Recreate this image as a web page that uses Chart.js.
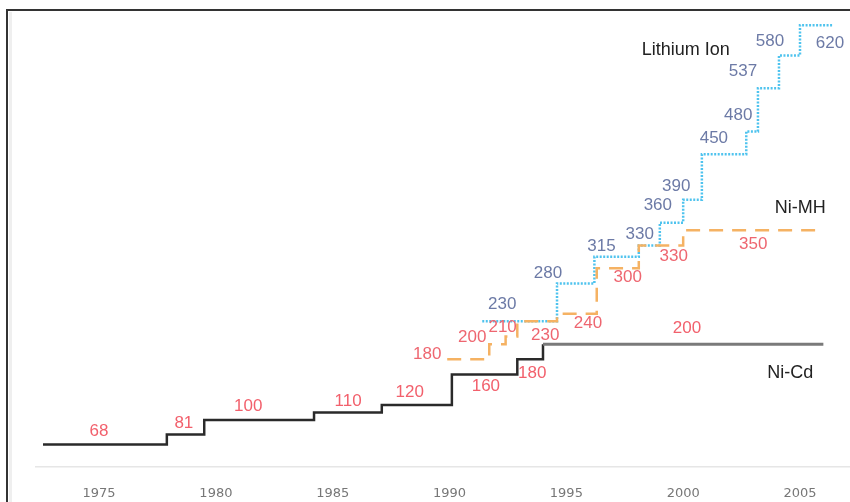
<!DOCTYPE html>
<html>
<head>
<meta charset="utf-8">
<script src="https://cdn.jsdelivr.net/npm/chart.js@4"></script>
<style>
  html, body { margin: 0; padding: 0; background: #fff; }
  #wrap { width: 850px; height: 502px; position: relative; }
</style>
</head>
<body>
<div id="wrap"><canvas id="myChart" width="850" height="502"></canvas></div>
<script>
// x ticks
const tickYears = [1975, 1980, 1985, 1990, 1995, 2000, 2005]

// each series: year where a step starts, energy value; last entry closes the line
const nicdYears = [1972.6, 1977.9, 1979.5, 1984.2, 1987.1, 1990.1, 1992.9, 1994.0, 2006.0]
const nicdValues = [68, 81, 100, 110, 120, 160, 180, 200, 200]

const nimhYears = [1989.9, 1991.7, 1992.4, 1992.9, 1994.6, 1996.3, 1998.1, 2000.0, 2006.0]
const nimhValues = [180, 200, 210, 230, 240, 300, 330, 350, 350]

const liionYears = [1991.4, 1994.6, 1996.2, 1998.1, 1999.0, 2000.0, 2000.8, 2002.7, 2003.2, 2004.1, 2005.0, 2006.4]
const liionValues = [230, 280, 315, 330, 360, 390, 450, 480, 537, 580, 620, 620]

const seriesNames = ['Ni-Cd', 'Ni-MH', 'Lithium Ion']

// where each number sits next to its step (pixels from step start)
const labelNudges = [
    [[56, -13], [17, -11], [44, -14], [34, -11], [28, -13], [34, 12], [15, 14], [144, -16]],
    [[-20, -5], [-17, -7], [-3, -9], [28, 14], [31, 10], [31, 9], [35, 11], [70, 14]],
    [[20, -17], [-9, -10], [7, -10], [1, -11], [-2, -17], [-7, -14], [12, -16], [-8, -16], [-15, -17], [-9, -14], [30, 18]]
]
const nameNudges = [[-33, 29], [-23, -22], [-147, 25]]

function toPoints(xs, ys) {
    return xs.map((yr, i) => ({x: yr, y: ys[i]}))
}

const framePlugin = {
    id: 'frame',
    beforeDraw(chart) {
        const ctx = chart.ctx
        ctx.save()
        ctx.fillStyle = '#efefef'
        ctx.fillRect(9, 12, 3, chart.height - 12)
        ctx.strokeStyle = '#333'
        ctx.lineWidth = 2
        ctx.beginPath()
        ctx.moveTo(7, chart.height)
        ctx.lineTo(7, 10)
        ctx.lineTo(chart.width, 10)
        ctx.stroke()
        ctx.restore()
    }
}

const labelPlugin = {
    id: 'stepLabels',
    afterDatasetsDraw(chart) {
        const ctx = chart.ctx
        const x = chart.scales.x
        const y = chart.scales.y
        ctx.save()
        ctx.textAlign = 'center'
        ctx.textBaseline = 'middle'
        chart.data.datasets.forEach((ds, i) => {
            ctx.font = '17px "Liberation Sans", Arial, sans-serif'
            ctx.fillStyle = ds.labelColor
            const pts = ds.data
            for (let j = 0; j < pts.length - 1; j++) {
                const n = labelNudges[i][j]
                ctx.fillText(String(pts[j].y), x.getPixelForValue(pts[j].x) + n[0], y.getPixelForValue(pts[j].y) + n[1])
            }
            const last = pts[pts.length - 1]
            ctx.font = '18px "Liberation Sans", Arial, sans-serif'
            ctx.fillStyle = '#222'
            ctx.fillText(seriesNames[i], x.getPixelForValue(last.x) + nameNudges[i][0], y.getPixelForValue(last.y) + nameNudges[i][1])
        })
        ctx.restore()
    }
}

const ctx = document.getElementById('myChart')
new Chart(ctx, {
    type: 'line',
    data: {
        datasets: [{
            label: seriesNames[0],
            data: toPoints(nicdYears, nicdValues),
            stepped: 'before',
            borderColor: '#2a2a2a',
            borderWidth: 2.5,
            labelColor: '#f2606c',
            segment: {
                borderColor: c => c.p0.parsed.y >= 200 ? '#7a7a7a' : '#2a2a2a',
                borderWidth: c => c.p0.parsed.y >= 200 ? 3 : 2.5
            }
        }, {
            label: seriesNames[1],
            data: toPoints(nimhYears, nimhValues),
            stepped: 'before',
            borderColor: '#f5b263',
            borderWidth: 2.5,
            borderDash: [14, 9],
            labelColor: '#ee6670'
        }, {
            label: seriesNames[2],
            data: toPoints(liionYears, liionValues),
            stepped: 'before',
            borderColor: '#4fc3ee',
            borderWidth: 2.5,
            borderDash: [2, 1.5],
            labelColor: '#6c7aa6'
        }]
    },
    options: {
        responsive: false,
        animation: false,
        events: [],
        elements: {point: {radius: 0}},
        layout: {padding: {left: 36, right: 0, top: 10, bottom: -18}},
        plugins: {
            legend: {display: false},
            tooltip: {enabled: false}
        },
        scales: {
            x: {
                type: 'linear',
                min: 1972.3,
                max: 2007.14,
                afterBuildTicks: axis => { axis.ticks = tickYears.map(v => ({value: v})) },
                grid: {display: false, drawTicks: false},
                border: {color: '#e6e6e6', width: 1.5},
                ticks: {
                    padding: 19,
                    color: '#777',
                    font: {family: '"DejaVu Sans"', size: 13},
                    callback: v => String(v),
                    maxRotation: 0,
                    autoSkip: false
                }
            },
            y: {
                type: 'linear',
                display: false,
                min: 39,
                max: 640
            }
        }
    },
    plugins: [framePlugin, labelPlugin]
})
</script>
</body>
</html>
